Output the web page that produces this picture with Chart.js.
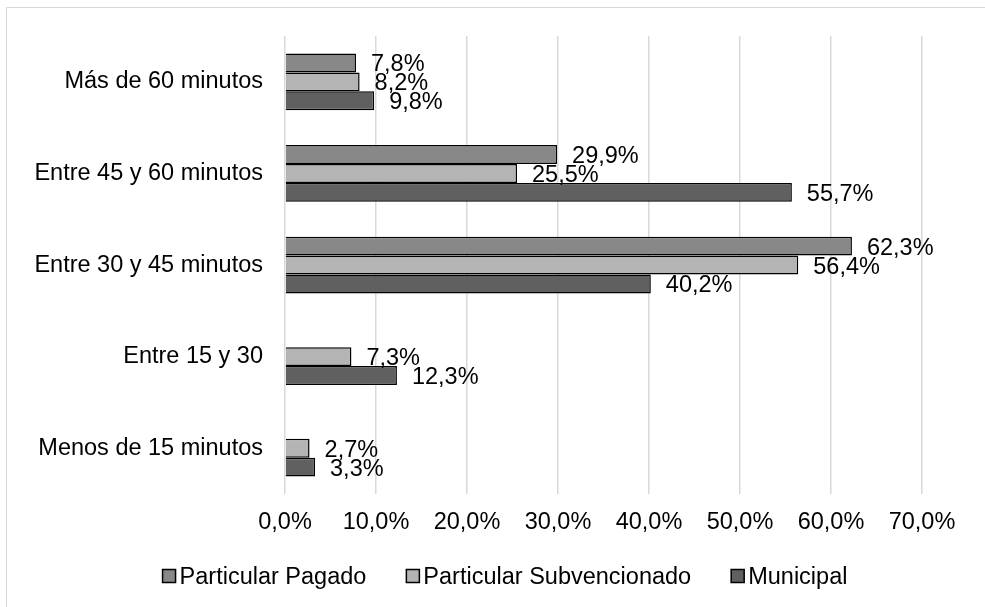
<!DOCTYPE html>
<html><head><meta charset="utf-8">
<script src="https://cdn.jsdelivr.net/npm/chart.js@4"></script>
<style>
html,body{margin:0;padding:0;background:#fff;overflow:hidden;}
#wrap{position:absolute;left:0;top:0;width:985px;height:607px;}
#frame{position:absolute;left:6px;top:7px;width:1000px;height:620px;border:1px solid #d9d9d9;box-sizing:border-box;}
canvas{position:absolute;left:0;top:0;}
</style></head><body>
<div id="wrap"><div id="frame"></div><canvas id="c" width="985" height="607"></canvas></div>
<script>
const categories = ['Más de 60 minutos','Entre 45 y 60 minutos','Entre 30 y 45 minutos','Entre 15 y 30','Menos de 15 minutos'];
const seriesNames = ['Particular Pagado','Particular Subvencionado','Municipal'];
const pagado = [7.8, 29.9, 62.3, null, null];
const subvencionado = [8.2, 25.5, 56.4, 7.3, 2.7];
const municipal = [9.8, 55.7, 40.2, 12.3, 3.3];
const xTicks = [0,10,20,30,40,50,60,70];

const fmt = v => v.toFixed(1).replace('.', ',') + '%';
const FONT = "'Liberation Sans', Arial, sans-serif";
const FS = 23.5;

const labelPlugin = {
  id: 'valLabels',
  afterDatasetsDraw(chart) {
    const ctx = chart.ctx;
    ctx.save();
    ctx.font = FS + 'px ' + FONT;
    ctx.fillStyle = '#000';
    ctx.textAlign = 'left';
    ctx.textBaseline = 'middle';
    chart.data.datasets.forEach((ds, di) => {
      const meta = chart.getDatasetMeta(di);
      meta.data.forEach((el, i) => {
        const v = ds.data[i];
        if (v === null || v === undefined) return;
        ctx.fillText(fmt(v), el.x + 15, el.y + 2);
      });
    });
    ctx.restore();
  }
};

const legendPlugin = {
  id: 'customLegend',
  afterDraw(chart) {
    const ctx = chart.ctx;
    ctx.save();
    ctx.font = FS + 'px ' + FONT;
    const box = 13, gapBox = 4, gapItem = 40;
    const items = chart.data.datasets.map(ds => ({label: ds.label, color: ds.backgroundColor, w: ctx.measureText(ds.label).width}));
    const total = items.reduce((s, it) => s + box + gapBox + it.w, 0) + gapItem * (items.length - 1);
    let x = 505 - total / 2;
    const cy = 576;
    items.forEach(it => {
      ctx.fillStyle = it.color;
      ctx.fillRect(x, cy - box / 2, box, box);
      ctx.strokeStyle = '#000';
      ctx.lineWidth = 1.5;
      ctx.strokeRect(x, cy - box / 2, box, box);
      ctx.fillStyle = '#000';
      ctx.textAlign = 'left';
      ctx.textBaseline = 'middle';
      ctx.fillText(it.label, x + box + gapBox, cy + 2);
      x += box + gapBox + it.w + gapItem;
    });
    ctx.restore();
  }
};

Chart.defaults.font.family = FONT;
Chart.defaults.color = '#000';

new Chart(document.getElementById('c'), {
  type: 'bar',
  data: {
    labels: categories,
    datasets: [
      {label: seriesNames[0], data: pagado, backgroundColor:'#888888', borderColor:'#000', borderWidth:1.5},
      {label: seriesNames[1], data: subvencionado, backgroundColor:'#b4b4b4', borderColor:'#000', borderWidth:1.5},
      {label: seriesNames[2], data: municipal, backgroundColor:'#606060', borderColor:'#000', borderWidth:1.5}
    ]
  },
  options: {
    indexAxis: 'y',
    responsive: false,
    animation: false,
    devicePixelRatio: 1,
    layout: {padding: {left: 0, right: 63, top: 36, bottom: 0}},
    datasets: {bar: {categoryPercentage: 0.62, barPercentage: 1.0}},
    scales: {
      x: {
        min: 0, max: 70,
        afterBuildTicks(s){ s.ticks = xTicks.map(v => ({value: v})); },
        afterFit(s){ s.height = 113; },
        ticks: {callback: v => fmt(v), font: {size: FS}, color:'#000', padding: 14, maxRotation: 0},
        grid: {color:'#d9d9d9', lineWidth: 1.5, drawTicks: false},
        border: {display: false}
      },
      y: {
        afterFit(s){ s.width = 285; },
        ticks: {font: {size: FS}, color:'#000', padding: 22},
        grid: {display: false, drawTicks: false},
        border: {display: false}
      }
    },
    plugins: {
      legend: {display: false},
      tooltip: {enabled: false}
    }
  },
  plugins: [labelPlugin, legendPlugin]
});
</script>
</body></html>
